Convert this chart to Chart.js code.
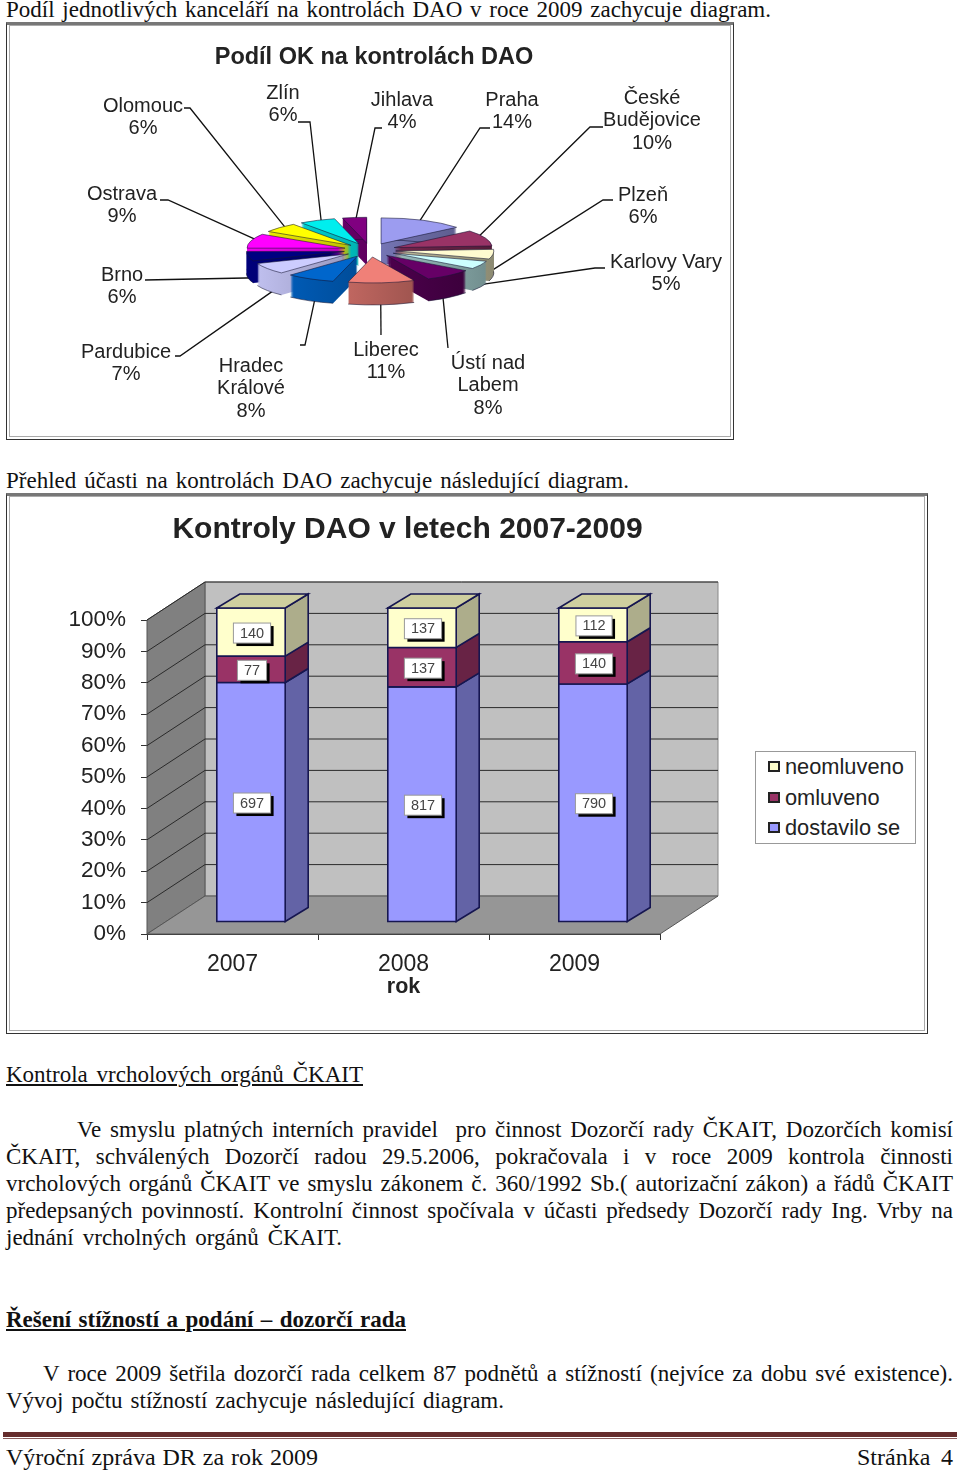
<!DOCTYPE html>
<html lang="cs">
<head>
<meta charset="utf-8">
<title>Výroční zpráva DR za rok 2009</title>
<script src="https://cdn.jsdelivr.net/npm/chart.js@4/dist/chart.umd.min.js"></script>
<style>
html, body { margin: 0; padding: 0; background: #fff; }
body { position: relative; width: 960px; height: 1473px; overflow: hidden; color: #111; font-family: "Liberation Serif", serif; }
.line { position: absolute; height: 27px; line-height: 27px; font-size: 23px; white-space: nowrap; text-align: justify; text-align-last: justify; }
.u { text-decoration: underline; }
.b { font-weight: bold; }
.frame { position: absolute; box-sizing: border-box; border: 1px solid #333; border-top: 3px solid #777; outline: 1px solid #aaa; outline-offset: -4px; }
canvas { position: absolute; display: block; }
#legend { position: absolute; left: 755px; top: 751px; width: 161px; height: 93px; box-sizing: border-box; border: 1px solid #999; background: #fff; font-family: "Liberation Sans", sans-serif; font-size: 21.8px; color: #222; }
#legend div { position: absolute; left: 29px; white-space: nowrap; line-height: 24px; }
#legend i { position: absolute; left: -17px; top: 6px; width: 12px; height: 11px; box-sizing: border-box; border: 2px solid #222; }
#rule1 { position: absolute; left: 3px; top: 1432px; width: 954px; height: 5px; background: #652c2c; }
#rule2 { position: absolute; left: 3px; top: 1438px; width: 954px; height: 1px; background: #8a5c5c; }
</style>
</head>
<body>

<div class="line" style="left:6px;top:-4px;width:765px">Podíl jednotlivých kanceláří na kontrolách DAO v roce 2009 zachycuje diagram.</div>
<div class="frame" style="left:6px;top:22px;width:728px;height:418px"></div>
<canvas id="pieChart" width="720" height="410" style="left:10px;top:26px"></canvas>

<div class="line" style="left:6px;top:467px;width:623px">Přehled účasti na kontrolách DAO zachycuje následující diagram.</div>
<div class="frame" style="left:6px;top:493px;width:922px;height:541px"></div>
<canvas id="barChart" width="914" height="533" style="left:10px;top:498px"></canvas>
<div id="legend"></div>

<div class="line u" style="left:6px;top:1061px;width:357px">Kontrola vrcholových orgánů ČKAIT</div>
<div class="line" style="left:77px;top:1116px;width:876px">Ve smyslu platných interních pravidel&nbsp; pro činnost Dozorčí rady ČKAIT, Dozorčích komisí</div>
<div class="line" style="left:6px;top:1143px;width:947px">ČKAIT, schválených Dozorčí radou 29.5.2006, pokračovala i v roce 2009 kontrola činnosti</div>
<div class="line" style="left:6px;top:1170px;width:947px">vrcholových orgánů ČKAIT ve smyslu zákonem č. 360/1992 Sb.( autorizační zákon) a řádů ČKAIT</div>
<div class="line" style="left:6px;top:1197px;width:947px">předepsaných povinností. Kontrolní činnost spočívala v účasti předsedy Dozorčí rady Ing. Vrby na</div>
<div class="line" style="left:6px;top:1224px;width:336px">jednání vrcholných orgánů ČKAIT.</div>
<div class="line u b" style="left:6px;top:1306px;width:400px">Řešení stížností a podání – dozorčí rada</div>
<div class="line" style="left:43px;top:1360px;width:910px">V roce 2009 šetřila dozorčí rada celkem 87 podnětů a stížností (nejvíce za dobu své existence).</div>
<div class="line" style="left:6px;top:1387px;width:498px">Vývoj počtu stížností zachycuje následující diagram.</div>
<div id="rule1"></div>
<div id="rule2"></div>
<div class="line" style="left:6px;top:1444px;width:312px;font-size:24px">Výroční zpráva DR za rok 2009</div>
<div class="line" style="left:857px;top:1444px;width:96px;font-size:24px">Stránka 4</div>

<script>
// ===== Pie data =====

var pieOffices = ['Praha', 'České|Budějovice', 'Plzeň', 'Karlovy Vary', 'Ústí nad|Labem', 'Liberec', 'Hradec|Králové', 'Pardubice', 'Brno', 'Ostrava', 'Olomouc', 'Zlín', 'Jihlava'];
var piePercents = [14, 10, 6, 5, 8, 11, 8, 7, 6, 9, 6, 6, 4];
var pieColors = ['#9c9cf0', '#993366', '#fffbd0', '#ccffff', '#660066', '#f08078', '#0066cc', '#ccccff', '#000080', '#ff00ff', '#ffff00', '#00eeee', '#800080'];

// label centre and first row, page coordinates
var pieLabelX = [512, 652, 643, 666, 488, 386, 251, 126, 122, 122, 143, 283, 402];
var pieLabelY = [100, 98, 195, 262, 363, 350, 366, 352, 275, 194, 106, 93, 100];
// leader line: label end x, y, then elbow x
var pieLeaderX = [490, 603, 613, 605, 448, 381, 300, 175, 145, 160, 184, 298, 382];
var pieLeaderY = [128, 127, 200, 268, 348, 335, 345, 356, 280, 200, 108, 122, 128];
var pieElbowX = [480, 590, 603, 595, 448, 381, 305, 180, 145, 168, 190, 310, 375];

// ===== Bar data =====

var years = ['2007', '2008', '2009'];
var attended = [697, 817, 790];
var excused = [77, 137, 140];
var unexcused = [140, 137, 112];
var seriesNames = ['neomluveno', 'omluveno', 'dostavilo se'];
var percentTicks = [0, 10, 20, 30, 40, 50, 60, 70, 80, 90, 100];

var attendedColor = '#9999ff';
var excusedColor = '#993366';
var unexcusedColor = '#ffffcc';

// ===== Helpers =====

function shade(hex, k) {
    var n = parseInt(hex.slice(1), 16);
    var r = Math.round((n >> 16) * k);
    var g = Math.round(((n >> 8) & 255) * k);
    var b = Math.round((n & 255) * k);
    return 'rgb(' + r + ',' + g + ',' + b + ')';
}

function percentOf(values) {
    return values.map(function(v, i) {
        return v / (attended[i] + excused[i] + unexcused[i]) * 100;
    });
}

// Chart.js centres the title on the chart area, the originals sit a little right of that
function nudgeTitle(px) {
    return function(chart) {
        chart.titleBlock.left += px;
        chart.titleBlock.right += px;
    };
}

// ===== Pie chart =====

var PIE_LEFT = 10, PIE_TOP = 26;
var squash = 0.265, pieDepth = 22, explode = 26;

function slicePath(ctx, x, y, r, a0, a1) {
    ctx.beginPath();
    ctx.moveTo(x, y);
    ctx.ellipse(x, y, r, r * squash, 0, a0, a1);
    ctx.closePath();
}

var pie3d = {
    id: 'pie3d',
    afterLayout: nudgeTitle(4),
    beforeDatasetsDraw: function(chart) {
        var ctx = chart.ctx;
        var arcs = chart.getDatasetMeta(0).data.map(function(arc, i) {
            var p = arc.getProps(['x', 'y', 'startAngle', 'endAngle', 'outerRadius']);
            p.index = i;
            p.mid = (p.startAngle + p.endAngle) / 2;
            p.cx = p.x + Math.cos(p.mid) * explode;
            p.cy = p.y + Math.sin(p.mid) * explode * squash;
            return p;
        });

        // leader lines go under the slices
        ctx.save();
        ctx.strokeStyle = '#111';
        ctx.lineWidth = 1.3;
        arcs.forEach(function(p) {
            var i = p.index;
            var down = Math.sin(p.mid) > 0 ? pieDepth : 0;
            ctx.beginPath();
            ctx.moveTo(pieLeaderX[i] - PIE_LEFT, pieLeaderY[i] - PIE_TOP);
            ctx.lineTo(pieElbowX[i] - PIE_LEFT, pieLeaderY[i] - PIE_TOP);
            ctx.lineTo(p.cx + Math.cos(p.mid) * p.outerRadius * 0.9, p.cy + Math.sin(p.mid) * p.outerRadius * squash * 0.9 + down);
            ctx.stroke();
        });
        ctx.restore();

        // back slices first
        arcs.slice().sort(function(a, b) { return Math.sin(a.mid) - Math.sin(b.mid); }).forEach(function(p) {
            var color = pieColors[p.index];
            var wall = ctx.createLinearGradient(p.cx - p.outerRadius, 0, p.cx + p.outerRadius, 0);
            wall.addColorStop(0, shade(color, 0.95));
            wall.addColorStop(1, shade(color, 0.55));
            ctx.fillStyle = wall;
            for (var d = pieDepth; d >= 1; d--) {
                slicePath(ctx, p.cx, p.cy + d, p.outerRadius, p.startAngle, p.endAngle);
                ctx.fill();
            }
            ctx.strokeStyle = 'rgba(20,20,50,0.7)';
            ctx.lineWidth = 0.8;
            // only the rim of the bottom, its radial edges are hidden
            ctx.beginPath();
            ctx.ellipse(p.cx, p.cy + pieDepth, p.outerRadius, p.outerRadius * squash, 0, p.startAngle, p.endAngle);
            ctx.stroke();
            ctx.fillStyle = color;
            slicePath(ctx, p.cx, p.cy, p.outerRadius, p.startAngle, p.endAngle);
            ctx.fill();
            ctx.stroke();
        });

        return false;
    },
    afterDraw: function(chart) {
        var ctx = chart.ctx;
        ctx.save();
        ctx.font = '20px "Liberation Sans", sans-serif';
        ctx.fillStyle = '#222';
        ctx.textAlign = 'center';
        ctx.textBaseline = 'middle';
        pieOffices.forEach(function(name, i) {
            var rows = name.split('|').concat(piePercents[i] + '%');
            rows.forEach(function(row, r) {
                ctx.fillText(row, pieLabelX[i] - PIE_LEFT, pieLabelY[i] - PIE_TOP + r * 22.6);
            });
        });
        ctx.restore();
    }
};

new Chart(document.getElementById('pieChart'), {
    type: 'pie',
    data: {
        labels: pieOffices.map(function(n) { return n.replace('|', ' '); }),
        datasets: [{ data: piePercents, backgroundColor: pieColors, borderWidth: 0 }]
    },
    options: {
        responsive: false,
        animation: false,
        radius: 98,
        layout: { padding: { bottom: 30 } },
        plugins: {
            legend: { display: false },
            tooltip: { enabled: false },
            title: {
                display: true,
                fullSize: false,
                text: 'Podíl OK na kontrolách DAO',
                color: '#222',
                font: { family: '"Liberation Sans", sans-serif', size: 23.5, weight: 'bold' },
                padding: { top: 17, bottom: 23 }
            }
        }
    },
    plugins: [pie3d]
});

// ===== Stacked bar chart =====

var wallDx = 58, wallDy = -38;   // back wall offset
var barDx = 18.5, barDy = -12;   // bars stand mid floor
var sideDx = 23, sideDy = -14;   // bar depth

function poly(ctx, pts, fill, stroke) {
    ctx.beginPath();
    pts.forEach(function(p, i) { if (i) ctx.lineTo(p[0], p[1]); else ctx.moveTo(p[0], p[1]); });
    ctx.closePath();
    ctx.fillStyle = fill;
    ctx.fill();
    if (stroke) { ctx.strokeStyle = stroke; ctx.stroke(); }
}

var bar3d = {
    id: 'bar3d',
    afterLayout: nudgeTitle(4),
    beforeDatasetsDraw: function(chart) {
        var ctx = chart.ctx;
        var a = chart.chartArea;
        var yScale = chart.scales.y;
        ctx.save();

        // walls and floor
        ctx.lineWidth = 1;
        poly(ctx, [[a.left + wallDx, a.top + wallDy], [a.right + wallDx, a.top + wallDy], [a.right + wallDx, a.bottom + wallDy], [a.left + wallDx, a.bottom + wallDy]], '#c0c0c0', '#888');
        poly(ctx, [[a.left, a.top], [a.left + wallDx, a.top + wallDy], [a.left + wallDx, a.bottom + wallDy], [a.left, a.bottom]], '#808080', '#555');
        poly(ctx, [[a.left, a.bottom], [a.left + wallDx, a.bottom + wallDy], [a.right + wallDx, a.bottom + wallDy], [a.right, a.bottom]], '#969696', '#555');

        // gridlines on both walls
        ctx.strokeStyle = '#2a2a2a';
        percentTicks.forEach(function(t) {
            if (t === 0) return;
            var y = yScale.getPixelForValue(t);
            ctx.beginPath();
            ctx.moveTo(a.left, y);
            ctx.lineTo(a.left + wallDx, y + wallDy);
            ctx.lineTo(a.right + wallDx, y + wallDy);
            ctx.stroke();
        });

        // bars, bottom segment up
        var sides = [shade(attendedColor, 0.65), shade(excusedColor, 0.68), shade(unexcusedColor, 0.68)];
        [0, 1, 2].forEach(function(ds) {
            chart.getDatasetMeta(ds).data.forEach(function(bar) {
                var l = bar.x - bar.width / 2 + barDx;
                var r = bar.x + bar.width / 2 + barDx;
                var t = bar.y + barDy;
                var b = bar.base + barDy;
                ctx.lineWidth = 1.6;
                poly(ctx, [[r, t], [r + sideDx, t + sideDy], [r + sideDx, b + sideDy], [r, b]], sides[ds], '#161650');
                poly(ctx, [[l, t], [r, t], [r, b], [l, b]], chart.data.datasets[ds].backgroundColor, '#161650');
                if (ds === 2) {
                    poly(ctx, [[l, t], [l + sideDx, t + sideDy], [r + sideDx, t + sideDy], [r, t]], '#cfcf9f', '#161650');
                }
            });
        });

        // value labels
        var raw = [attended, excused, unexcused];
        ctx.font = '14.5px "Liberation Sans", sans-serif';
        ctx.textAlign = 'center';
        ctx.textBaseline = 'middle';
        [0, 1, 2].forEach(function(ds) {
            chart.getDatasetMeta(ds).data.forEach(function(bar, i) {
                var x = bar.x + barDx + 1;
                var y = (bar.y + bar.base) / 2 + barDy + 1;
                var text = String(raw[ds][i]);
                var w = ctx.measureText(text).width + 13;
                ctx.fillStyle = '#000';
                ctx.fillRect(x - w / 2 + 3, y - 10 + 3, w, 20);
                ctx.fillStyle = '#fff';
                ctx.fillRect(x - w / 2, y - 10, w, 20);
                ctx.lineWidth = 1;
                ctx.strokeStyle = '#999';
                ctx.strokeRect(x - w / 2, y - 10, w, 20);
                ctx.fillStyle = '#444';
                ctx.fillText(text, x, y + 0.5);
            });
        });

        ctx.restore();
        return false;
    }
};

new Chart(document.getElementById('barChart'), {
    type: 'bar',
    data: {
        labels: years,
        datasets: [
            { label: seriesNames[2], data: percentOf(attended), backgroundColor: attendedColor },
            { label: seriesNames[1], data: percentOf(excused), backgroundColor: excusedColor },
            { label: seriesNames[0], data: percentOf(unexcused), backgroundColor: unexcusedColor }
        ]
    },
    options: {
        responsive: false,
        animation: false,
        barPercentage: 1,
        categoryPercentage: 0.4,
        layout: { padding: { right: 264 } },
        plugins: {
            legend: { display: false },
            tooltip: { enabled: false },
            title: {
                display: true,
                fullSize: false,
                text: 'Kontroly DAO v letech 2007-2009',
                color: '#222',
                font: { family: '"Liberation Sans", sans-serif', size: 30, weight: 'bold' },
                padding: { top: 14, bottom: 72 }
            }
        },
        scales: {
            x: {
                stacked: true,
                afterFit: function(scale) { scale.height = 97; },
                grid: { drawOnChartArea: false, tickLength: 6, color: '#333' },
                border: { color: '#333' },
                ticks: { color: '#222', padding: 11, font: { family: '"Liberation Sans", sans-serif', size: 23 } },
                title: { display: true, text: 'rok', color: '#222', font: { family: '"Liberation Sans", sans-serif', size: 21.5, weight: 'bold' }, padding: { top: 0, bottom: 31 } }
            },
            y: {
                stacked: true,
                min: 0,
                max: 100,
                afterFit: function(scale) { scale.width = 137; },
                afterBuildTicks: function(scale) { scale.ticks = percentTicks.map(function(v) { return { value: v }; }); },
                grid: { drawOnChartArea: false, tickLength: 6, color: '#333' },
                border: { color: '#333' },
                ticks: {
                    color: '#222',
                    padding: 15,
                    font: { family: '"Liberation Sans", sans-serif', size: 22.5 },
                    callback: function(v) { return v + '%'; }
                }
            }
        }
    },
    plugins: [bar3d]
});

// ===== Legend =====

var legendEl = document.getElementById('legend');
var legendColors = [unexcusedColor, excusedColor, attendedColor];
seriesNames.forEach(function(name, i) {
    var row = document.createElement('div');
    row.style.top = (3 + i * 30.5) + 'px';
    row.textContent = name;
    var box = document.createElement('i');
    box.style.background = legendColors[i];
    row.appendChild(box);
    legendEl.appendChild(row);
});
</script>
</body>
</html>
